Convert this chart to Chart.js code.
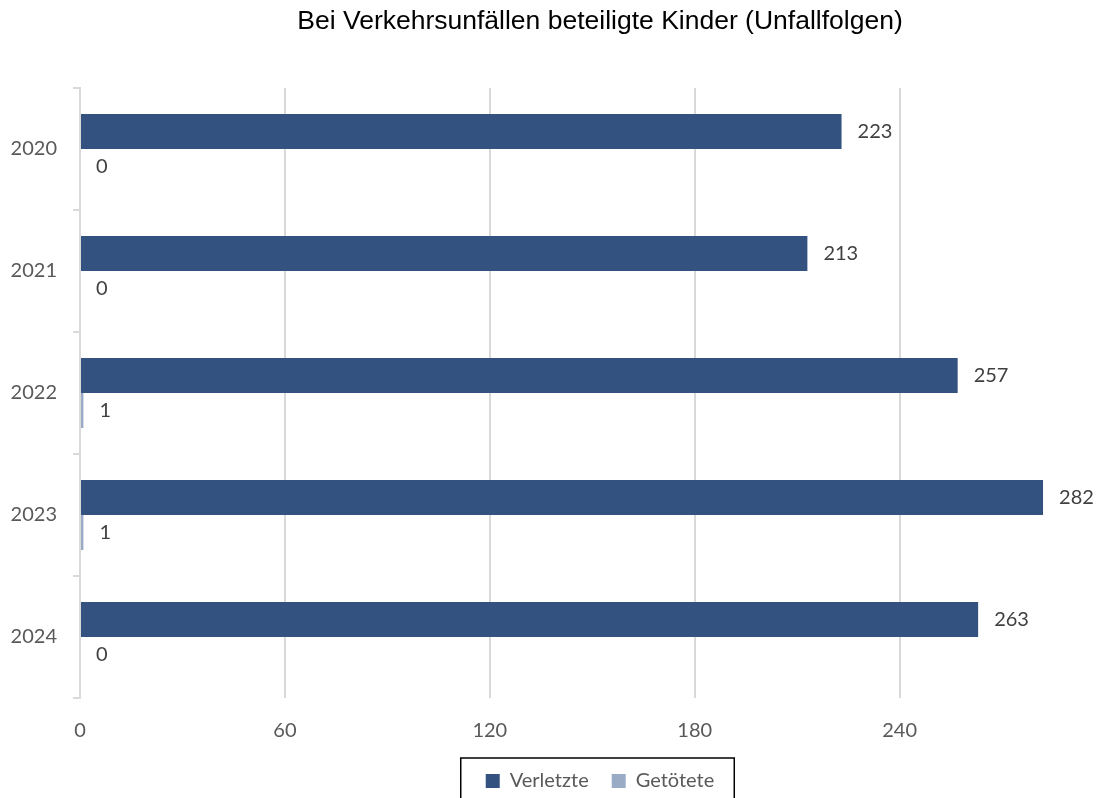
<!DOCTYPE html>
<html>
<head>
<meta charset="utf-8">
<script src="https://cdn.jsdelivr.net/npm/chart.js@4.4.1/dist/chart.umd.min.js"></script>
<style>
  html, body { margin: 0; padding: 0; overflow: hidden; background: #fff; }
  #wrap { width: 1200px; height: 801px; }
</style>
</head>
<body>
<div id="wrap"><canvas id="chart"></canvas></div>
<script>
const years = ["2020", "2021", "2022", "2023", "2024"];
const verletzte = [223, 213, 257, 282, 263];
const getoetete = [0, 0, 1, 1, 0];
const xMax = 300;
const xStep = 60;

const labelFont = { family: "Lato", size: 20 };

// numbers right of each bar end
const valueLabels = {
  id: "valueLabels",
  afterDatasetsDraw(chart) {
    const { ctx } = chart;
    ctx.save();
    ctx.font = "20px Lato";
    ctx.fillStyle = "#404040";
    ctx.textAlign = "left";
    ctx.textBaseline = "middle";
    chart.data.datasets.forEach((ds, i) => {
      chart.getDatasetMeta(i).data.forEach((bar, j) => {
        ctx.fillText(ds.data[j], bar.x + 16, bar.y);
      });
    });
    ctx.restore();
  }
};

// black frame round the legend
const legendFrame = {
  id: "legendFrame",
  afterDraw(chart) {
    const boxes = chart.legend.legendHitBoxes;
    if (!boxes || !boxes.length) return;
    const left = Math.min(...boxes.map(b => b.left)) - 25;
    const right = Math.max(...boxes.map(b => b.left + b.width)) + 20;
    const top = Math.min(...boxes.map(b => b.top)) - 13;
    const bottom = Math.max(...boxes.map(b => b.top + b.height)) + 13;
    const { ctx } = chart;
    ctx.save();
    ctx.strokeStyle = "#000";
    ctx.lineWidth = 1.5;
    ctx.strokeRect(left, top, right - left, bottom - top);
    ctx.restore();
  }
};

new Chart(document.getElementById("chart"), {
  type: "bar",
  data: {
    labels: years,
    datasets: [
      {
        label: "Verletzte",
        data: verletzte,
        backgroundColor: "#335280",
        categoryPercentage: 0.574,
        barPercentage: 1
      },
      {
        label: "Getötete",
        data: getoetete,
        backgroundColor: "#9aabc6",
        categoryPercentage: 0.574,
        barPercentage: 1
      }
    ]
  },
  options: {
    indexAxis: "y",
    responsive: true,
    maintainAspectRatio: false,
    animation: false,
    devicePixelRatio: 1,
    scales: {
      x: {
        min: 0,
        max: xMax,
        border: { display: false },
        grid: { color: "#d9d9d9", lineWidth: 2, drawTicks: false },
        ticks: {
          stepSize: xStep,
          padding: 21,
          color: "#595959",
          font: labelFont,
          callback: v => (v === xMax ? "" : v)
        },
        afterFit: s => { s.height = 50; }
      },
      y: {
        border: { display: true, color: "#d9d9d9", width: 2 },
        grid: {
          offset: true,
          drawOnChartArea: false,
          drawTicks: true,
          tickLength: 7,
          color: "#d9d9d9",
          lineWidth: 2
        },
        ticks: { padding: 16, color: "#595959", font: labelFont },
        afterFit: s => { s.width = 80; }
      },
      // empty strip on the right, keeps the plot narrower than the canvas
      yRight: {
        type: "category",
        position: "right",
        grid: { display: false },
        border: { display: false },
        ticks: { display: false },
        afterFit: s => { s.width = 95.5; }
      }
    },
    plugins: {
      title: {
        display: true,
        text: "Bei Verkehrsunfällen beteiligte Kinder (Unfallfolgen)",
        color: "#000",
        font: { family: "Liberation Sans", size: 26.5, weight: "normal" },
        padding: { top: 6.1, bottom: 50.1 }
      },
      legend: {
        position: "bottom",
        labels: {
          boxWidth: 14,
          boxHeight: 14,
          padding: 23,
          color: "#595959",
          font: labelFont
        }
      },
      tooltip: { enabled: false }
    }
  },
  plugins: [valueLabels, legendFrame]
});
</script>
</body>
</html>
